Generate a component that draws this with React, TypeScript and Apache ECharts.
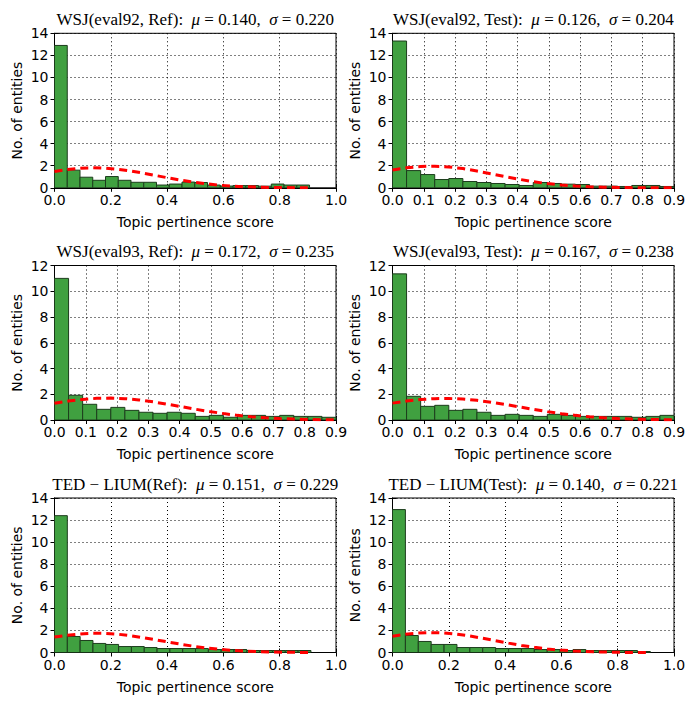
import React, { useEffect, useRef } from "react";
import * as echarts from "echarts";

// ---- data ----
const panelNames = ["WSJ(eval92, Ref)", "WSJ(eval92, Test)", "WSJ(eval93, Ref)", "WSJ(eval93, Test)", "TED − LIUM(Ref)", "TED − LIUM(Test)"];
const panelMu = ["0.140", "0.126", "0.172", "0.167", "0.151", "0.140"];
const panelSigma = ["0.220", "0.204", "0.235", "0.238", "0.229", "0.221"];
const yLabels = ["No. of entities", "No. of entities", "No. of entities", "No. of entities", "No. of entities", "No. of entites"];
const xLabel = "Topic pertinence score";
const xMax = [1.0, 0.9, 0.9, 0.9, 1.0, 1.0];
const xStep = [0.2, 0.1, 0.1, 0.1, 0.2, 0.2];
const yMax = [14, 14, 12, 12, 14, 14];
const dataMax = [0.906, 0.9, 0.9, 0.9, 0.911, 0.916];

const h1 = [12.9, 1.6, 0.96, 0.68, 1.02, 0.68, 0.5, 0.5, 0.25, 0.34, 0.52, 0.48, 0.25, 0.16, 0.2, 0.2, 0.15, 0.34, 0.25, 0.25];
const h2 = [13.3, 1.56, 1.2, 0.75, 0.84, 0.57, 0.48, 0.39, 0.3, 0.21, 0.48, 0.39, 0.33, 0.3, 0.15, 0.15, 0.12, 0.21, 0.21, 0.12];
const h3 = [11.0, 1.92, 1.22, 0.83, 0.98, 0.75, 0.6, 0.52, 0.6, 0.52, 0.28, 0.36, 0.21, 0.36, 0.36, 0.28, 0.36, 0.28, 0.28, 0.21];
const h4 = [11.35, 1.84, 1.06, 1.14, 0.75, 0.83, 0.6, 0.36, 0.44, 0.36, 0.28, 0.44, 0.36, 0.28, 0.28, 0.28, 0.28, 0.21, 0.28, 0.36];
const h5 = [12.4, 1.45, 1.09, 0.82, 0.73, 0.54, 0.54, 0.45, 0.36, 0.36, 0.36, 0.36, 0.27, 0.27, 0.27, 0.18, 0.18, 0.18, 0.18, 0.18];
const h6 = [12.95, 1.54, 1.0, 0.73, 0.73, 0.45, 0.45, 0.45, 0.36, 0.36, 0.36, 0.27, 0.27, 0.18, 0.27, 0.18, 0.18, 0.18, 0.18, 0.09];

const c1 = [1.48, 1.65, 1.77, 1.81, 1.78, 1.68, 1.52, 1.32, 1.1, 0.88, 0.67, 0.49, 0.35, 0.23, 0.15, 0.09, 0.06, 0.03, 0.02, 0.01, 0.005];
const c2 = [1.62, 1.81, 1.93, 1.96, 1.89, 1.74, 1.52, 1.27, 1.01, 0.77, 0.55, 0.38, 0.25, 0.16, 0.09, 0.05, 0.03, 0.01, 0.01, 0.0, 0.0];
const c3 = [1.3, 1.47, 1.6, 1.68, 1.7, 1.66, 1.56, 1.41, 1.23, 1.04, 0.84, 0.66, 0.5, 0.36, 0.25, 0.17, 0.11, 0.07, 0.04, 0.02, 0.01];
const c4 = [1.31, 1.47, 1.59, 1.66, 1.67, 1.63, 1.53, 1.38, 1.21, 1.02, 0.83, 0.65, 0.49, 0.36, 0.25, 0.17, 0.11, 0.07, 0.04, 0.03, 0.01];
const c5 = [1.4, 1.57, 1.68, 1.74, 1.73, 1.65, 1.51, 1.33, 1.13, 0.92, 0.72, 0.54, 0.39, 0.27, 0.18, 0.12, 0.07, 0.04, 0.02, 0.01, 0.01];
const c6 = [1.48, 1.65, 1.76, 1.8, 1.77, 1.66, 1.5, 1.29, 1.07, 0.85, 0.64, 0.47, 0.32, 0.22, 0.14, 0.08, 0.05, 0.03, 0.01, 0.01, 0.0];

const heights = [h1, h2, h3, h4, h5, h6];
const curves = [c1, c2, c3, c4, c5, c6];

// ---- layout ----
const colLeft = [54.5, 392.5];
const plotW = 281.5;
const rowTop = [33.3, 265.5, 498];
const plotH = 154.5;
const FONT = "DejaVu Sans";

export default function App() {
  const ref = useRef<HTMLDivElement>(null);
  useEffect(() => {
    if (!ref.current) return;
    const chart = echarts.init(ref.current, null, { renderer: "svg" });
    const grid: any[] = [];
    const xAxis: any[] = [];
    const yAxis: any[] = [];
    const series: any[] = [];
    const title: any[] = [];
    const xTop: any[] = [];
    const yRight: any[] = [];

    for (let i = 0; i < 6; i++) {
      const col = i % 2;
      const row = Math.floor(i / 2);
      const left = colLeft[col];
      const top = rowTop[row];
      grid.push({ left, top, width: plotW, height: plotH, show: true, borderColor: "#000", borderWidth: 1, backgroundColor: "transparent" });
      title.push({
        text: `${panelNames[i]}:  {i|μ} = ${panelMu[i]},  {i|σ} = ${panelSigma[i]}`,
        left: left + plotW / 2,
        top: top - 22.5,
        textAlign: "center",
        padding: 0,
        textStyle: {
          fontFamily: "Liberation Serif",
          fontSize: 17,
          fontWeight: "normal",
          color: "#000",
          rich: { i: { fontFamily: "Liberation Serif", fontSize: 17, fontStyle: "italic", color: "#000" } },
        },
      });
      const common = {
        gridIndex: i,
        type: "value",
      };
      xAxis.push({
        ...common,
        min: 0,
        max: xMax[i],
        interval: xStep[i],
        name: xLabel,
        nameLocation: "middle",
        nameGap: 27,
        nameTextStyle: { fontFamily: FONT, fontSize: 14, color: "#000" },
        axisLine: { show: true, lineStyle: { color: "#000", width: 1 } },
        axisTick: { show: true, inside: true, length: 4, lineStyle: { color: "#000" } },
        axisLabel: { fontFamily: FONT, fontSize: 14, color: "#000", margin: 5, formatter: (v: number) => v.toFixed(1) },
        splitLine: { show: true, lineStyle: { color: "#000", type: [1, 3], width: 1 } },
      });
      xTop.push({
        ...common,
        position: "top",
        min: 0,
        max: xMax[i],
        interval: xStep[i],
        axisLine: { show: true, lineStyle: { color: "#000", width: 1 } },
        axisTick: { show: true, inside: true, length: 4, lineStyle: { color: "#000" } },
        axisLabel: { show: false },
        splitLine: { show: false },
      });
      yAxis.push({
        ...common,
        min: 0,
        max: yMax[i],
        interval: 2,
        name: yLabels[i],
        nameLocation: "middle",
        nameGap: 31,
        nameTextStyle: { fontFamily: FONT, fontSize: 14, color: "#000" },
        axisLine: { show: true, lineStyle: { color: "#000", width: 1 } },
        axisTick: { show: true, inside: true, length: 4, lineStyle: { color: "#000" } },
        axisLabel: { fontFamily: FONT, fontSize: 14, color: "#000", margin: 6 },
        splitLine: { show: true, lineStyle: { color: "#000", type: [1, 3], width: 1 } },
      });
      yRight.push({
        ...common,
        position: "right",
        min: 0,
        max: yMax[i],
        interval: 2,
        axisLine: { show: true, lineStyle: { color: "#000", width: 1 } },
        axisTick: { show: true, inside: true, length: 4, lineStyle: { color: "#000" } },
        axisLabel: { show: false },
        splitLine: { show: false },
      });

      const n = heights[i].length;
      const w = dataMax[i] / n;
      const bars = heights[i].map((h, k) => [k * w, (k + 1) * w, h]);
      series.push({
        type: "custom",
        xAxisIndex: i,
        yAxisIndex: i,
        z: 3,
        clip: true,
        encode: { x: [0, 1], y: 2 },
        data: bars,
        renderItem: (params: any, api: any) => {
          const p0 = api.coord([api.value(0), 0]);
          const p1 = api.coord([api.value(1), api.value(2)]);
          return {
            type: "rect",
            shape: { x: p0[0], y: p1[1], width: p1[0] - p0[0], height: p0[1] - p1[1] },
            style: { fill: "#40a040", stroke: "#1c3c1c", lineWidth: 1 },
          };
        },
      });
      series.push({
        type: "line",
        xAxisIndex: i,
        yAxisIndex: i,
        z: 4,
        showSymbol: false,
        symbol: "none",
        data: curves[i].map((v, k) => [k * w, v]),
        lineStyle: { color: "#ff0000", width: 3, type: [8, 5] },
      });
    }

    chart.setOption({
      animation: false,
      backgroundColor: "#fff",
      title,
      grid,
      xAxis: [...xAxis, ...xTop],
      yAxis: [...yAxis, ...yRight],
      series,
    });
    return () => chart.dispose();
  }, []);
  return <div ref={ref} style={{ position: "absolute", left: 0, top: 0, width: 698, height: 703 }} />;
}
